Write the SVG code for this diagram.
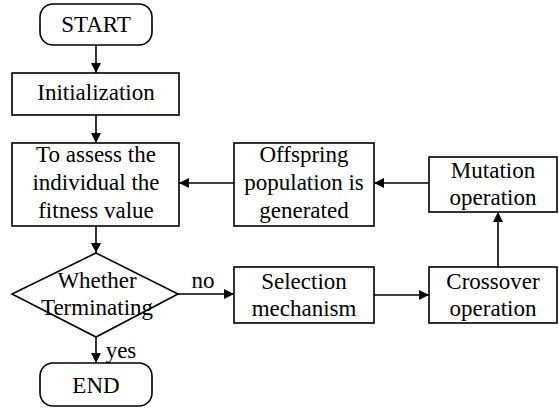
<svg xmlns="http://www.w3.org/2000/svg" width="559" height="408" viewBox="0 0 559 408">
<defs>
<style>
.box{fill:#fff;stroke:#000;stroke-width:1.6}
.ln{fill:none;stroke:#000;stroke-width:1.6}
.t{font-size:23px;fill:#000;text-anchor:middle}
</style>
<marker id="ah" viewBox="0 0 10 10" refX="10" refY="5" markerWidth="10" markerHeight="10" markerUnits="userSpaceOnUse" orient="auto">
<path d="M0,0 L10,5 L0,10 Z" fill="#000"/>
</marker>
</defs>
<rect width="559" height="408" fill="#fff"/>
<g font-family="'Liberation Serif', 'DejaVu Serif', serif">
<g id="connectors">
<line class="ln" x1="96" y1="45" x2="96" y2="73" marker-end="url(#ah)"/>
<line class="ln" x1="96" y1="115" x2="96" y2="143" marker-end="url(#ah)"/>
<line class="ln" x1="96" y1="226" x2="96" y2="253" marker-end="url(#ah)"/>
<line class="ln" x1="96" y1="337" x2="96" y2="363" marker-end="url(#ah)"/>
<line class="ln" x1="178" y1="294" x2="234" y2="294" marker-end="url(#ah)"/>
<line class="ln" x1="374" y1="295" x2="429" y2="295" marker-end="url(#ah)"/>
<line class="ln" x1="498" y1="267" x2="498" y2="212" marker-end="url(#ah)"/>
<line class="ln" x1="429" y1="183" x2="374" y2="183" marker-end="url(#ah)"/>
<line class="ln" x1="234" y1="183" x2="179" y2="183" marker-end="url(#ah)"/>
<text class="t" x="203" y="288">no</text>
<text class="t" x="121" y="358">yes</text>
</g>
<g id="start">
<rect class="box" x="40" y="4" width="112" height="41" rx="13"/>
<text class="t" x="96" y="32">START</text>
</g>
<g id="init">
<rect class="box" x="12" y="73" width="167" height="42"/>
<text class="t" x="96" y="100">Initialization</text>
</g>
<g id="fitness">
<rect class="box" x="12" y="143" width="167" height="83"/>
<text class="t" x="96" y="162">To assess the</text>
<text class="t" x="96" y="190">individual the</text>
<text class="t" x="96" y="218">fitness value</text>
</g>
<g id="offspring">
<rect class="box" x="234" y="143" width="140" height="83"/>
<text class="t" x="304" y="162">Offspring</text>
<text class="t" x="304" y="190">population is</text>
<text class="t" x="304" y="218">generated</text>
</g>
<g id="mutation">
<rect class="box" x="429" y="157" width="128" height="55"/>
<text class="t" x="493" y="178">Mutation</text>
<text class="t" x="493" y="205">operation</text>
</g>
<g id="decision">
<polygon class="box" points="96,253 178,294 96,337 12,294"/>
<text class="t" x="97" y="288">Whether</text>
<text class="t" x="97" y="315">Terminating</text>
</g>
<g id="selection">
<rect class="box" x="234" y="267" width="140" height="56"/>
<text class="t" x="304" y="289">Selection</text>
<text class="t" x="304" y="316">mechanism</text>
</g>
<g id="crossover">
<rect class="box" x="429" y="267" width="128" height="56"/>
<text class="t" x="493" y="289">Crossover</text>
<text class="t" x="493" y="316">operation</text>
</g>
<g id="end">
<rect class="box" x="40" y="363" width="112" height="43" rx="13"/>
<text class="t" x="96" y="393">END</text>
</g>
</g>
</svg>
